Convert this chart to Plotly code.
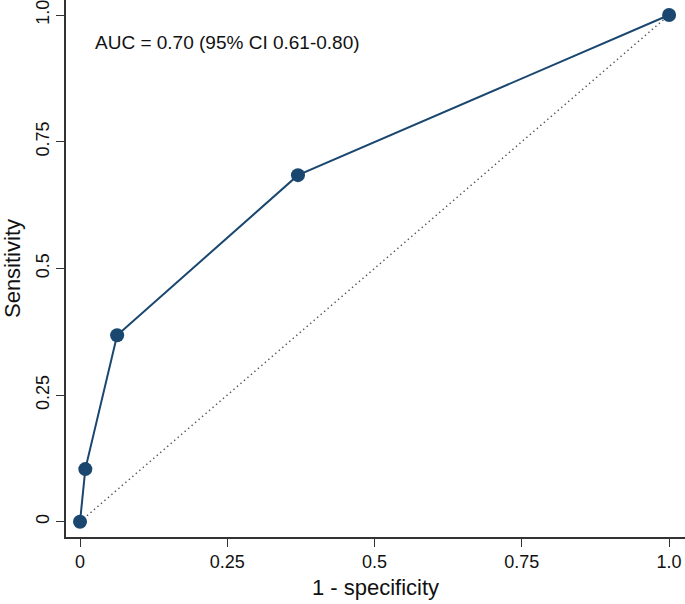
import plotly.graph_objects as go

fpr = [0.0, 0.009, 0.063, 0.370, 1.0]
tpr = [0.0, 0.104, 0.368, 0.684, 1.0]
ref_line = [0.0, 1.0]
tick_vals = [0, 0.25, 0.5, 0.75, 1.0]
tick_text = ["0", "0.25", "0.5", "0.75", "1.0"]
auc_label = "AUC = 0.70 (95% CI 0.61-0.80)"

navy = "#1a476f"
fnt = "Liberation Sans, Arial, Helvetica, sans-serif"

fig = go.Figure()
fig.add_trace(go.Scatter(x=ref_line, y=ref_line, mode="lines",
                         line=dict(color="#555555", width=1.4, dash="1.4px,3.2px"),
                         showlegend=False, hoverinfo="skip"))
fig.add_trace(go.Scatter(x=fpr, y=tpr, mode="lines+markers",
                         line=dict(color=navy, width=2),
                         marker=dict(color=navy, size=14),
                         showlegend=False))

fig.add_annotation(x=0.022, y=0.945, xref="x", yref="y", text=auc_label,
                   showarrow=False, xanchor="left", yanchor="middle",
                   font=dict(family=fnt, size=19, color="#111111"))

axis_common = dict(showgrid=False, zeroline=False, showline=True,
                   linecolor="#333333", linewidth=1.5, ticks="outside",
                   ticklen=8, tickwidth=1.3, tickcolor="#333333",
                   tickvals=tick_vals, ticktext=tick_text,
                   ticklabeloverflow="allow",
                   tickfont=dict(family=fnt, size=18, color="#111111"))

fig.update_layout(
    width=685, height=604,
    margin=dict(l=66, r=0, t=0, b=67),
    paper_bgcolor="white", plot_bgcolor="white",
    xaxis=dict(range=[-0.0238, 1.027], automargin=False,
               title=dict(text="1 - specificity", font=dict(family=fnt, size=22, color="#111111"), standoff=8),
               **axis_common),
    yaxis=dict(range=[-0.030, 1.0296], tickangle=-90, automargin=False,
               title=dict(text="Sensitivity", font=dict(family=fnt, size=22, color="#111111"), standoff=6),
               **axis_common),
)

fig.write_html("out.html", config={"displayModeBar": False},
               post_script="document.body.style.margin='0';document.body.style.padding='0';")
